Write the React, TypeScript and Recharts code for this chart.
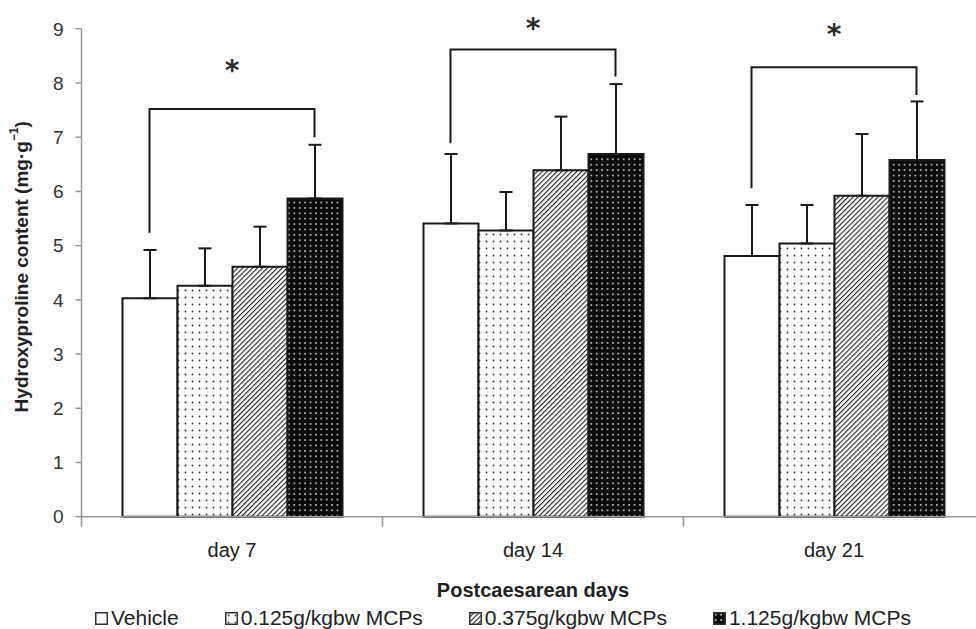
import React from 'react';
import {BarChart, Bar, XAxis, YAxis, ErrorBar, ReferenceLine, ReferenceDot, Legend} from 'recharts';

const days = ['day 7', 'day 14', 'day 21'];
const seriesNames = ['Vehicle', '0.125g/kgbw MCPs', '0.375g/kgbw MCPs', '1.125g/kgbw MCPs'];

const vehicle = [4.03, 5.41, 4.81];
const vehicleSd = [0.89, 1.28, 0.94];
const lowDose = [4.26, 5.28, 5.04];
const lowDoseSd = [0.69, 0.71, 0.71];
const midDose = [4.61, 6.39, 5.92];
const midDoseSd = [0.74, 0.99, 1.14];
const highDose = [5.87, 6.69, 6.58];
const highDoseSd = [0.99, 1.29, 1.08];

const yTicks = [0, 1, 2, 3, 4, 5, 6, 7, 8, 9];

// significance brackets: vehicle vs 1.125g/kgbw, per day
const bracketTop = [7.52, 8.62, 8.29];
const bracketLeftEnd = [5.24, 6.89, 6.06];
const bracketRightEnd = [7.0, 8.12, 7.78];
const starLevel = [8.33, 9.1, 9.0];

const data = days.map((day, i) => ({
  day,
  vehicle: vehicle[i],
  vehicleSd: [0, vehicleSd[i]],
  lowDose: lowDose[i],
  lowDoseSd: [0, lowDoseSd[i]],
  midDose: midDose[i],
  midDoseSd: [0, midDoseSd[i]],
  highDose: highDose[i],
  highDoseSd: [0, highDoseSd[i]],
}));

const CHART_W = 990;
const CHART_H = 629;
const Y_AXIS_W = 81.5;
const X_AXIS_H = 80;
const MARGIN = {top: 28.8, right: 5.5, bottom: 32.3, left: 0};
const BAR = 55;
const PLOT_W = CHART_W - Y_AXIS_W - MARGIN.left - MARGIN.right;
const BAND = PLOT_W / days.length;

const axisColor = '#999';
const inkColor = '#1a1a1a';
const textColor = '#222';

const fills = ['#fff', 'url(#pLow)', 'url(#pMid)', 'url(#pHigh)'];

const DayTick = ({x, y, payload}: any) => (
  <g>
    <line x1={x - BAND / 2} x2={x - BAND / 2} y1={y} y2={y + 10} stroke={axisColor} strokeWidth={1.5} />
    <text x={x} y={y + 40} textAnchor="middle" fontSize={20} fill={textColor}>
      {payload.value}
    </text>
  </g>
);

const YTitle = ({viewBox}: any) => {
  const cx = 21;
  const cy = viewBox.y + viewBox.height / 2 - 6;
  return (
    <text x={cx} y={cy} transform={`rotate(-90, ${cx}, ${cy})`} textAnchor="middle" dominantBaseline="central"
      fontSize={19} fontWeight="bold" fill={textColor}>
      <tspan>Hydroxyproline content (mg·g</tspan>
      <tspan dy={-7} fontSize={12}>−1</tspan>
      <tspan dy={7}>)</tspan>
    </text>
  );
};

const XTitle = ({viewBox}: any) => (
  <text x={viewBox.x + viewBox.width / 2} y={viewBox.y + 80} textAnchor="middle" fontSize={20}
    fontWeight="bold" fill={textColor}>
    Postcaesarean days
  </text>
);

// half of a bracket: a leg over the outer bar (vehicle or 1.125) joined to the group centre at the top level
const bracketHalf = (side: number) => (props: any) => {
  const {x1, y1, y2} = props;
  const legX = x1 + side * 1.5 * BAR;
  return (
    <path d={`M${x1},${y1} H${legX} V${y2}`} fill="none" stroke={inkColor} strokeWidth={2} />
  );
};

const Star = ({cx, cy}: any) => (
  <text x={cx} y={cy + 15} textAnchor="middle" fontSize={28} fontWeight="bold" fontFamily="DejaVu Sans"
    fill="#2a2a2a">*</text>
);

const LegendContent = () => (
  <div style={{display: 'flex', paddingLeft: 95, fontSize: 21, lineHeight: '21px', color: textColor}}>
    {seriesNames.map((name, j) => (
      <span key={name} style={{marginRight: 46, whiteSpace: 'nowrap'}}>
        <svg width={13} height={13} style={{verticalAlign: 'baseline', marginRight: 3}}>
          <rect x={0.75} y={0.75} width={11.5} height={11.5} fill={fills[j]} stroke="#333" strokeWidth={1.5} />
        </svg>
        {name}
      </span>
    ))}
  </div>
);

export default function App() {
  return (
    <div style={{position: 'absolute', left: 0, top: 0, width: 976, height: 629, overflow: 'hidden',
      background: '#fff', fontFamily: '"Liberation Sans", Arial, sans-serif'}}>
      <BarChart width={CHART_W} height={CHART_H} data={data} margin={MARGIN} barSize={BAR} barGap={0}>
        <defs>
          <pattern id="pLow" width={7} height={7} patternUnits="userSpaceOnUse">
            <rect width={7} height={7} fill="#fff" />
            <circle cx={3.5} cy={3.5} r={0.9} fill="#333" />
          </pattern>
          <pattern id="pMid" width={3.5} height={3.5} patternUnits="userSpaceOnUse" patternTransform="rotate(45)">
            <rect width={3.5} height={3.5} fill="#fff" />
            <rect x={0} y={0} width={1.1} height={3.5} fill="#222" />
          </pattern>
          <pattern id="pHigh" width={5.4} height={5.4} patternUnits="userSpaceOnUse">
            <rect width={5.4} height={5.4} fill="#0a0a0a" />
            <circle cx={2.7} cy={2.7} r={0.9} fill="#ddd" />
          </pattern>
        </defs>
        <XAxis dataKey="day" height={X_AXIS_H} interval={0} tickLine={false} tickSize={0}
          tickMargin={0} axisLine={{stroke: axisColor, strokeWidth: 1.5}} tick={<DayTick />}
          label={<XTitle />} />
        <YAxis domain={[0, 9]} ticks={yTicks} width={Y_AXIS_W} interval={0} tickSize={6} tickMargin={12}
          axisLine={{stroke: axisColor, strokeWidth: 1.5}} tickLine={{stroke: axisColor, strokeWidth: 1.5}}
          tick={{fontSize: 19, fill: '#333'}} label={<YTitle />} />
        <Bar dataKey="vehicle" name={seriesNames[0]} fill={fills[0]} stroke={inkColor}
          strokeWidth={2} isAnimationActive={false}>
          <ErrorBar dataKey="vehicleSd" direction="y" width={6.5} stroke={inkColor} strokeWidth={2}
            isAnimationActive={false} />
        </Bar>
        <Bar dataKey="lowDose" name={seriesNames[1]} fill={fills[1]} stroke={inkColor}
          strokeWidth={2} isAnimationActive={false}>
          <ErrorBar dataKey="lowDoseSd" direction="y" width={6.5} stroke={inkColor} strokeWidth={2}
            isAnimationActive={false} />
        </Bar>
        <Bar dataKey="midDose" name={seriesNames[2]} fill={fills[2]} stroke={inkColor}
          strokeWidth={2} isAnimationActive={false}>
          <ErrorBar dataKey="midDoseSd" direction="y" width={6.5} stroke={inkColor} strokeWidth={2}
            isAnimationActive={false} />
        </Bar>
        <Bar dataKey="highDose" name={seriesNames[3]} fill={fills[3]} stroke={inkColor}
          strokeWidth={2} isAnimationActive={false}>
          <ErrorBar dataKey="highDoseSd" direction="y" width={6.5} stroke={inkColor} strokeWidth={2}
            isAnimationActive={false} />
        </Bar>
        {days.map((d, i) => (
          <ReferenceLine key={`l${d}`} ifOverflow="visible" shape={bracketHalf(-1)}
            segment={[{x: d, y: bracketTop[i]}, {x: d, y: bracketLeftEnd[i]}]} />
        ))}
        {days.map((d, i) => (
          <ReferenceLine key={`r${d}`} ifOverflow="visible" shape={bracketHalf(1)}
            segment={[{x: d, y: bracketTop[i]}, {x: d, y: bracketRightEnd[i]}]} />
        ))}
        {days.map((d, i) => (
          <ReferenceDot key={`s${d}`} x={d} y={starLevel[i]} r={0} ifOverflow="visible" shape={<Star />} />
        ))}
        <Legend layout="horizontal" align="center" verticalAlign="middle" content={<LegendContent />}
          wrapperStyle={{top: 607, left: 0, width: 976, height: 22}} />
      </BarChart>
    </div>
  );
}
